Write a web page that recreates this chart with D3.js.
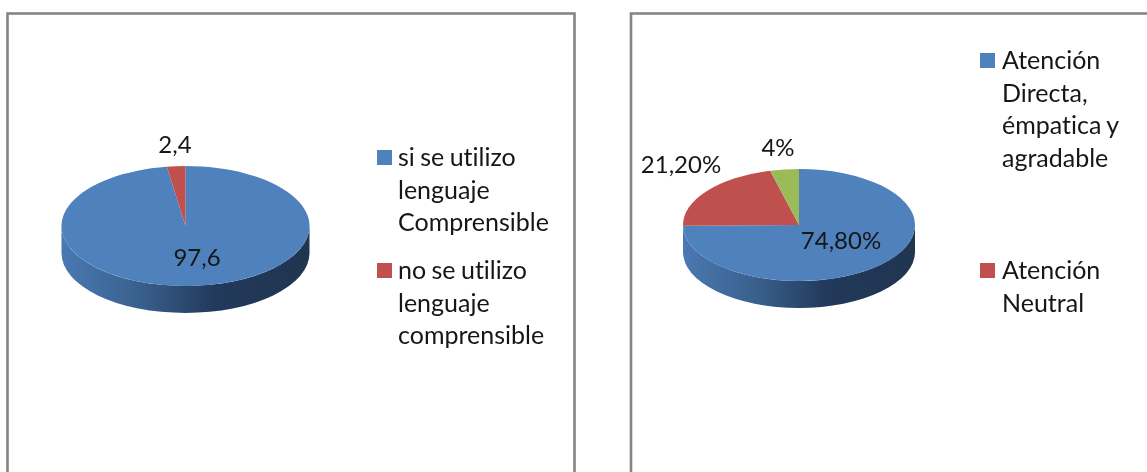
<!DOCTYPE html>
<html lang="es">
<head>
<meta charset="utf-8"/>
<title>Pies</title>
<script src="https://cdn.jsdelivr.net/npm/d3@7"></script>
<style>
  html, body { margin: 0; padding: 0; background: #fff; overflow: hidden; }
  svg { display: block; filter: blur(0.6px); }
  text { font-family: Lato, "Open Sans", sans-serif; font-size: 24px; fill: #161616; font-variant-ligatures: none; }
  .legend text { font-size: 25px; word-spacing: -1px; }
  .frame { fill: none; stroke: #858585; stroke-width: 2.6; }
</style>
</head>
<body>
<div id="chart"></div>
<script>
// values
var leftValues = [97.6, 2.4];
var leftLabels = ["97,6", "2,4"];
var leftLegend = [
  ["si se utilizo", "lenguaje", "Comprensible"],
  ["no se utilizo", "lenguaje", "comprensible"]
];

var rightValues = [74.8, 21.2, 4];
var rightLabels = ["74,80%", "21,20%", "4%"];
var rightLegend = [
  ["Atención", "Directa,", "émpatica y", "agradable"],
  ["Atención", "Neutral"]
];

var colors = ["#4f81bd", "#c0504d", "#9bbb59"];

var width = 1147,
    height = 472;

var svg = d3.select("#chart").append("svg")
    .attr("width", width)
    .attr("height", height);

// shading of the pie's side wall
var grad = svg.append("defs").append("linearGradient")
    .attr("id", "wall");
grad.append("stop").attr("offset", "0%").attr("stop-color", "#4a78b1");
grad.append("stop").attr("offset", "30%").attr("stop-color", "#3a628f");
grad.append("stop").attr("offset", "62%").attr("stop-color", "#22395a");
grad.append("stop").attr("offset", "100%").attr("stop-color", "#1f3550");

// frames run off the bottom (and right) of the image
svg.append("rect").attr("class", "frame")
    .attr("x", 7.5).attr("y", 13.5).attr("width", 567).attr("height", 480);
svg.append("rect").attr("class", "frame")
    .attr("x", 631).attr("y", 13.5).attr("width", 560).attr("height", 480);

function drawPie(o) {
  var g = svg.append("g").attr("transform", "translate(" + o.cx + "," + o.cy + ")");

  // side wall: front half of the ellipse pushed down
  g.append("path")
      .attr("d", "M" + (-o.rx) + ",0"
        + "A" + o.rx + "," + o.ry + " 0 0 0 " + o.rx + ",0"
        + "L" + o.rx + "," + o.depth
        + "A" + o.rx + "," + o.ry + " 0 0 1 " + (-o.rx) + "," + o.depth + "Z")
      .attr("fill", "url(#wall)");

  var pie = d3.pie().sort(null);
  var arc = d3.arc().innerRadius(0).outerRadius(o.rx);

  // top face is a circle squashed into an ellipse
  g.append("g")
      .attr("transform", "scale(1," + (o.ry / o.rx) + ")")
    .selectAll("path")
    .data(pie(o.values))
    .enter().append("path")
      .attr("d", arc)
      .attr("fill", function(d, i) { return colors[i]; });

  // data labels
  svg.selectAll(null)
    .data(o.labels)
    .enter().append("text")
      .attr("text-anchor", "middle")
      .attr("x", function(d, i) { return o.labelPos[i][0]; })
      .attr("y", function(d, i) { return o.labelPos[i][1]; })
      .text(function(d) { return d; });

  // legend
  var item = svg.selectAll(null)
    .data(o.legend)
    .enter().append("g")
      .attr("class", "legend")
      .attr("transform", function(d, i) { return "translate(" + o.legendX + "," + o.legendY[i] + ")"; });

  item.append("rect")
      .attr("x", 0)
      .attr("y", -15)
      .attr("width", 15)
      .attr("height", 15)
      .attr("fill", function(d, i) { return colors[i]; });

  item.selectAll("text")
    .data(function(d) { return d; })
    .enter().append("text")
      .attr("x", o.legendTextDx)
      .attr("y", function(d, i) { return 1 + i * 32.5; })
      .text(function(d) { return d; });
}

drawPie({
  cx: 185.5, cy: 226, rx: 124, ry: 60, depth: 27,
  values: leftValues,
  labels: leftLabels,
  labelPos: [[197, 266], [175, 153]],
  legend: leftLegend,
  legendX: 377, legendY: [165, 278], legendTextDx: 21
});

drawPie({
  cx: 799, cy: 225, rx: 116, ry: 56, depth: 27,
  values: rightValues,
  labels: rightLabels,
  labelPos: [[841, 249], [681, 173], [778, 156]],
  legend: rightLegend,
  legendX: 980, legendY: [68, 278], legendTextDx: 22
});
</script>
</body>
</html>
